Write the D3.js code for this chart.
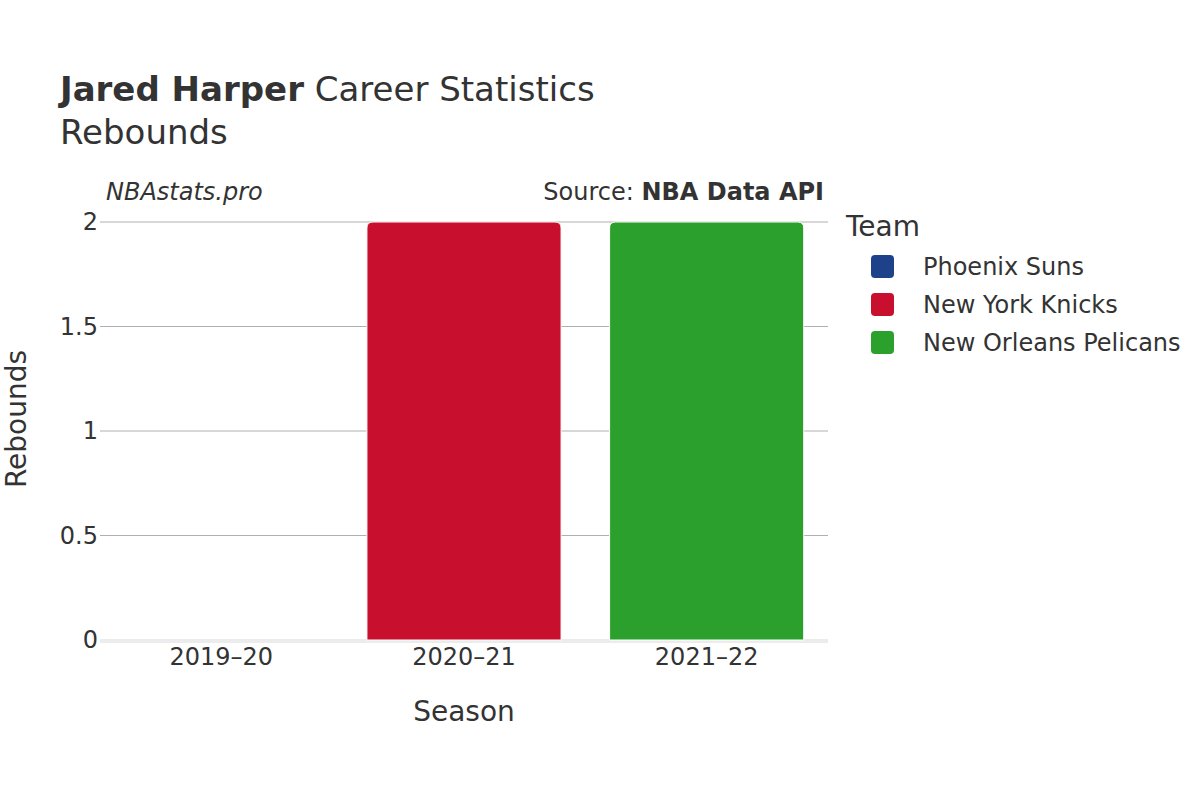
<!DOCTYPE html>
<html><head><meta charset="utf-8">
<script src="https://cdn.jsdelivr.net/npm/d3@7"></script>
<style>body{margin:0;background:#fff}text{font-family:"DejaVu Sans",sans-serif}</style>
</head><body><svg id="c" width="1200" height="800"></svg>
<script>
const seasons = ["2019–20", "2020–21", "2021–22"];
const teams = ["Phoenix Suns", "New York Knicks", "New Orleans Pelicans"];
const rebounds = [0, 2, 2];
const teamColors = ["#1d428a", "#c8102e", "#2ca02c"];
const yTicks = [0, 0.5, 1, 1.5, 2];

(function () {
const svg = d3.select("#c");
const pl = 100, pr = 828, pt = 222, pb = 640;
const x = d3.scaleBand().domain(seasons).range([pl, pr]).paddingInner(0.2).paddingOuter(0.1);
const y = d3.scaleLinear().domain([0, 2]).range([pb, pt]);
const color = d3.scaleOrdinal().domain(teams).range(teamColors);

// gridlines
svg.append("g").selectAll("line").data(yTicks.filter(d => d > 0)).join("line")
  .attr("x1", pl).attr("x2", pr).attr("y1", d => y(d)).attr("y2", d => y(d))
  .attr("stroke", "#b0b0b0").attr("stroke-width", 1);
svg.append("line").attr("x1", pl).attr("x2", pr).attr("y1", y(0) + 1).attr("y2", y(0) + 1)
  .attr("stroke", "#ececec").attr("stroke-width", 4);

// y axis labels
const ya = svg.append("g").attr("transform", `translate(${pl},0)`)
  .call(d3.axisLeft(y).tickValues(yTicks).tickSize(0).tickPadding(2).tickFormat(d3.format("")));
ya.select(".domain").remove();
ya.selectAll("text").attr("font-size", 24).attr("fill", "#333").attr("font-family", "DejaVu Sans");

// x axis labels
const xa = svg.append("g").attr("transform", `translate(0,${pb})`)
  .call(d3.axisBottom(x).tickSize(0).tickPadding(8));
xa.select(".domain").remove();
xa.selectAll("text").attr("font-size", 24).attr("fill", "#333").attr("font-family", "DejaVu Sans");

// bars
svg.append("g").selectAll("path").data(seasons.map((s, i) => ({s, v: rebounds[i], t: teams[i]})))
  .join("path")
  .attr("d", d => {
    const x0 = x(d.s), w = x.bandwidth(), y0 = y(d.v), y1 = y(0);
    const r = Math.min(6, (y1 - y0) / 2);
    if (y1 - y0 <= 0) return "";
    return `M${x0},${y1}V${y0 + r}Q${x0},${y0} ${x0 + r},${y0}H${x0 + w - r}Q${x0 + w},${y0} ${x0 + w},${y0 + r}V${y1}Z`;
  })
  .attr("fill", d => color(d.t)).attr("stroke", "#fff").attr("stroke-width", 1);

// titles
const title = svg.append("text").attr("x", 60).attr("y", 101).attr("font-size", 34).attr("fill", "#333");
title.append("tspan").attr("font-weight", "bold").text("Jared Harper");
title.append("tspan").text(" Career Statistics");
svg.append("text").attr("x", 60).attr("y", 144).attr("font-size", 34).attr("fill", "#333").text("Rebounds");

svg.append("text").attr("x", 106).attr("y", 200).attr("font-size", 24).attr("font-style", "italic").attr("fill", "#333").text("NBAstats.pro");
const src = svg.append("text").attr("x", 824).attr("y", 200).attr("text-anchor", "end").attr("font-size", 24).attr("fill", "#333");
src.append("tspan").text("Source: ");
src.append("tspan").attr("font-weight", "bold").text("NBA Data API");

svg.append("text").attr("x", 464).attr("y", 721).attr("text-anchor", "middle").attr("font-size", 28).attr("fill", "#333").text("Season");
svg.append("text").attr("transform", "translate(26,419) rotate(-90)").attr("text-anchor", "middle").attr("font-size", 28).attr("fill", "#333").text("Rebounds");

// legend
svg.append("text").attr("x", 846).attr("y", 236).attr("font-size", 28).attr("fill", "#333").text("Team");
const lg = svg.append("g").selectAll("g").data(teams).join("g")
  .attr("transform", (d, i) => `translate(871,${255 + i * 38})`);
lg.append("rect").attr("width", 23).attr("height", 23).attr("rx", 4).attr("fill", d => color(d));
lg.append("text").attr("x", 52).attr("y", 20).attr("font-size", 24).attr("fill", "#333").text(d => d);
})();
</script></body></html>
